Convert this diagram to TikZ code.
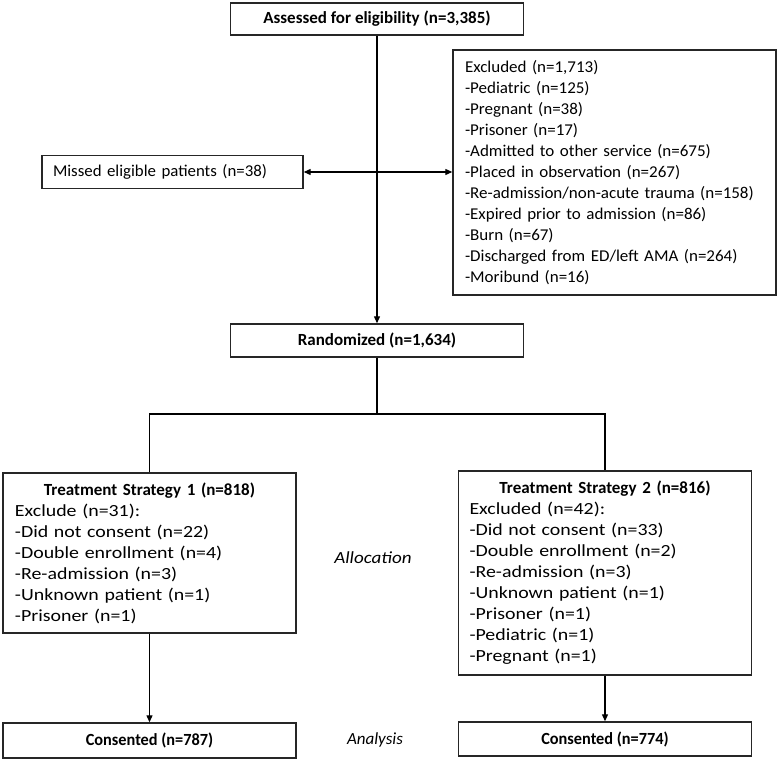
\documentclass[tikz,border=0pt]{standalone}
\usepackage{fontspec}
\setmainfont{Carlito}
\newfontfamily\fEx{Carlito}[FakeStretch=1.03]
\newfontfamily\fTs{Carlito}[FakeStretch=1.17]
\newfontfamily\fMi{Carlito}[FakeStretch=1.02]
\newfontfamily\fCo{Carlito}[FakeStretch=0.96]
\newfontfamily\fAl{Carlito}[FakeStretch=1.12]
\usetikzlibrary{arrows.meta}
\begin{document}
\begin{tikzpicture}[x=1pt,y=-1pt,
  bd/.style={font=\fontsize{17}{21}\selectfont\bfseries},
  box/.style={draw=black!85, line width=1.4pt, inner ysep=0pt, rectangle},
  cbox/.style={box, align=center, inner xsep=0pt},
  lbox/.style={box, align=left, inner xsep=12pt},
  conn/.style={draw=black, line width=1.2pt},
  arr/.style={conn, -{Triangle[length=7pt,width=6pt]}},
  darr/.style={conn, {Triangle[length=7pt,width=6pt]}-{Triangle[length=7pt,width=6pt]}}
]
\useasboundingbox (0,0) rectangle (780,759);

\node[cbox, bd, minimum width=293, minimum height=32] (assess) at (377,19) {Assessed for eligibility (n=3,385)};

\node[lbox, font=\fEx\fontsize{16.5}{21}\selectfont, text width=299, minimum height=245, inner xsep=12pt] (excl) at (614.5,172.5) {\mbox{Excluded (n=1,713)}\\
\mbox{-Pediatric (n=125)}\\
\mbox{-Pregnant (n=38)}\\
\mbox{-Prisoner (n=17)}\\
\mbox{-Admitted to other service (n=675)}\\
\mbox{-Placed in observation (n=267)}\\
\mbox{-Re-admission/non-acute trauma (n=158)}\\
\mbox{-Expired prior to admission (n=86)}\\
\mbox{-Burn (n=67)}\\
\mbox{-Discharged from ED/left AMA (n=264)}\\
\mbox{-Moribund (n=16)}};

\node[lbox, font=\fMi\fontsize{16.5}{21}\selectfont, text width=239, minimum height=33, inner xsep=11pt] (missed) at (172.5,172) {\mbox{Missed eligible patients (n=38)}};

\node[cbox, bd, minimum width=293, minimum height=33] (rand) at (377,340.5) {Randomized (n=1,634)};

\node[lbox, font=\fTs\fontsize{17}{21}\selectfont, text width=269, minimum height=160] (ts1) at (149.5,553) {\makebox[\linewidth]{\rmfamily\bfseries Treatment Strategy 1 (n=818)}\\
\mbox{Exclude (n=31):}\\
\mbox{-Did not consent (n=22)}\\
\mbox{-Double enrollment (n=4)}\\
\mbox{-Re-admission (n=3)}\\
\mbox{-Unknown patient (n=1)}\\
\mbox{-Prisoner (n=1)}};

\node[lbox, font=\fTs\fontsize{17}{21}\selectfont, text width=271, minimum height=204, inner xsep=11pt] (ts2) at (605,573) {\makebox[\linewidth]{\rmfamily\bfseries Treatment Strategy 2 (n=816)}\\
\mbox{Excluded (n=42):}\\
\mbox{-Did not consent (n=33)}\\
\mbox{-Double enrollment (n=2)}\\
\mbox{-Re-admission (n=3)}\\
\mbox{-Unknown patient (n=1)}\\
\mbox{-Prisoner (n=1)}\\
\mbox{-Pediatric (n=1)}\\
\mbox{-Pregnant (n=1)}};

\node[cbox, font=\fCo\fontsize{17}{21}\selectfont\bfseries, minimum width=293, minimum height=35] (cons1) at (149.5,740.5) {Consented (n=787)};
\node[cbox, font=\fCo\fontsize{17}{21}\selectfont\bfseries, minimum width=293, minimum height=34] (cons2) at (605,739) {Consented (n=774)};

\node[font=\fAl\fontsize{17}{21}\selectfont\itshape, inner sep=0pt] (alloc) at (373,558) {Allocation};
\node[font=\fontsize{17}{21}\selectfont\itshape, inner sep=0pt] (anal) at (375,740) {Analysis};

\coordinate (split) at (377,414);

\draw[arr] (assess.south) -- (rand.north);
\draw[darr] (missed.east) -- (missed.east -| excl.west);
\draw[conn] (rand.south) -- (split);
\draw[conn] (split) -| (ts1.north);
\draw[conn] (split) -| (ts2.north);
\draw[arr] (ts1.south) -- (cons1.north);
\draw[arr] (ts2.south) -- (cons2.north);
\end{tikzpicture}
\end{document}
